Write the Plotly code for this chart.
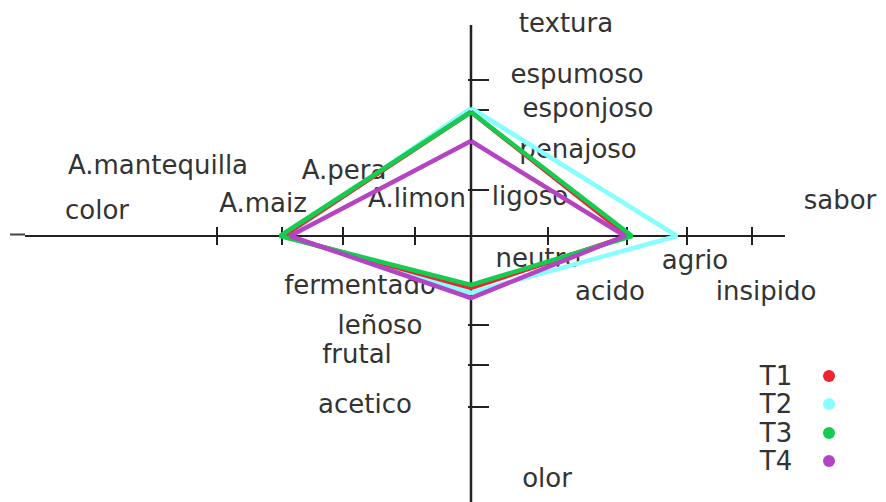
import plotly.graph_objects as go

# ---- data (distance from centre, along each semi-axis: textura up, sabor right, olor down, color left)
axes_names = ["textura", "sabor", "olor", "color"]
series_names = ["T1", "T2", "T3", "T4"]
T1 = [124, 157, 52, 188]
T2 = [128, 206, 57, 185]
T3 = [124, 161, 49, 191]
T4 = [95, 154, 62, 181]

# category labels printed around the cross
labels = ["textura", "espumoso", "esponjoso", "penajoso", "A.mantequilla", "A.pera", "color",
          "A.maiz", "A.limon", "ligoso", "sabor", "agrio", "neutro", "acido", "insipido",
          "fermentado", "leñoso", "frutal", "acetico", "olor"]

# ---- layout / style (positions in plot units, 1 unit = 1 px)
label_pos = [(95, 211), (106, 160), (117, 126), (107, 85), (-313, 69), (-127, 64), (-374, 24),
             (-208, 31), (-54, 36), (59, 38), (369, 34), (224, -26), (67, -24), (139, -57),
             (295, -57), (-111, -51), (-91, -91), (-114, -120), (-106, -170), (76, -244)]
h_ticks = [-254, -189, -128, -56, 77, 156, 216, 281]
v_ticks = [156, 126, 46, -89, -129, -171]
colors = {"T1": "#ee2430", "T2": "#88ffff", "T3": "#14cc50", "T4": "#b444c4"}
data = {"T1": T1, "T2": T2, "T3": T3, "T4": T4}
draw_order = ["T2", "T1", "T3", "T4"]
legend_y = [-140, -168, -197, -225]

FONT = "DejaVu Sans"
fig = go.Figure()

# labels (below lines)
fig.add_trace(go.Scatter(
    x=[p[0] for p in label_pos], y=[p[1] for p in label_pos], text=labels,
    mode="text", textposition="middle center",
    textfont=dict(family=FONT, size=26, color="#333333"), showlegend=False, hoverinfo="skip"))

# axes
shapes = [
    dict(type="line", x0=-446, x1=314, y0=0, y1=0, line=dict(color="#222", width=2)),
    dict(type="line", x0=-461, x1=-446, y0=1.5, y1=1.5, line=dict(color="#444", width=2)),
    dict(type="line", x0=0, x1=0, y0=211, y1=-274, line=dict(color="#222", width=2.5)),
]
for t in h_ticks:
    shapes.append(dict(type="line", x0=t, x1=t, y0=-9, y1=9, line=dict(color="#222", width=2)))
for t in v_ticks:
    shapes.append(dict(type="line", x0=-3, x1=18, y0=t, y1=t, line=dict(color="#222", width=2)))
for s in shapes:
    s["layer"] = "below"

# series diamonds
for name in draw_order:
    v = data[name]
    xs = [0, v[1], 0, -v[3], 0]
    ys = [v[0], 0, -v[2], 0, v[0]]
    fig.add_trace(go.Scatter(x=xs, y=ys, mode="lines", name=name,
                             line=dict(color=colors[name], width=4.5),
                             showlegend=False, hoverinfo="skip"))

# custom legend (text left of dot)
fig.add_trace(go.Scatter(
    x=[305] * 4, y=[ly - 2 for ly in legend_y], text=series_names, mode="text",
    textfont=dict(family=FONT, size=26, color="#333333"), showlegend=False, hoverinfo="skip"))
fig.add_trace(go.Scatter(
    x=[358] * 4, y=legend_y, mode="markers",
    marker=dict(color=[colors[n] for n in series_names], size=12, symbol="circle"),
    showlegend=False, hoverinfo="skip"))

# page body has an 8px margin: shift the ranges so the cross lands where the reference has it
fig.update_layout(
    width=886, height=502, margin=dict(l=0, r=0, t=0, b=0),
    paper_bgcolor="white", plot_bgcolor="white", shapes=shapes,
    xaxis=dict(range=[-463, 423], visible=False, fixedrange=True),
    yaxis=dict(range=[-274, 228], visible=False, fixedrange=True),
)
fig.write_html("out.html")
